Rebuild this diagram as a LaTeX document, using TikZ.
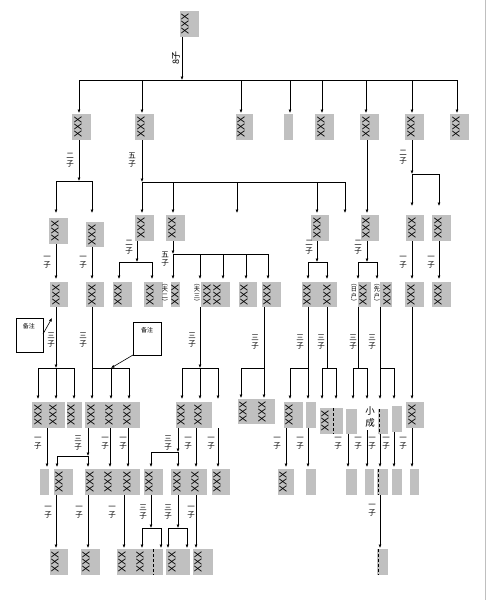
\documentclass[tikz,border=0pt]{standalone}
\usepackage{fontspec}
\setmainfont{Liberation Sans}
\newfontfamily\cjk{Noto Sans CJK SC}
\usetikzlibrary{arrows.meta,fit}
\definecolor{boxgray}{RGB}{192,192,192}
% gray box by its corners: name, x1, y1, x2, y2
\newcommand{\gb}[5]{\node[gbox,fit={(#2,#3) (#4,#5)}] (#1) {};}

\begin{document}
\begin{tikzpicture}[x=1pt,y=-1pt,
    conn/.style={line width=0.6pt},
    arr/.style={conn,-{Latex[length=3.5pt,width=3pt]}},
    gbox/.style={fill=boxgray,inner sep=0pt,outer sep=0pt},
    xxx/.style={rotate=90,inner sep=0pt,font=\fontsize{10.5}{11}\selectfont},
    kid/.style={inner sep=0pt,align=center,font=\cjk\fontsize{7.5}{8}\selectfont},
    tag/.style={inner sep=0pt,align=center,font=\cjk\fontsize{6.2}{6.4}\selectfont},
    note/.style={draw,line width=0.6pt,inner sep=0pt},
    sep/.style={densely dashed,line width=0.5pt}]
\useasboundingbox (0,0) rectangle (487,600);
\draw[gray!50,line width=1pt] (485,0) -- (485,600);

% ---- root ----
\gb{root}{180}{11}{199}{37}
\node[xxx] (rootx) at (185,24) {XXX};
\node[kid,rotate=90,font=\cjk\fontsize{9}{10}\selectfont] (rootk) at (176,58) {8子};
\draw[arr] (182,37) -- (182,80);
\draw[conn] (79,80) -- (457,80);
\foreach \x in {79,142,241,290,322,366,412,457} \draw[arr] (\x,80) -- (\x,113);

% ---- level 1 ----
\gb{b1}{72}{114}{91}{140}
\gb{b2}{135}{114}{154}{140}
\gb{b3}{236}{114}{253}{140}
\gb{b4}{284}{114}{293}{140}
\gb{b5}{315}{114}{334}{140}
\gb{b6}{360}{114}{379}{140}
\gb{b7}{405}{114}{424}{140}
\gb{b8}{450}{114}{469}{140}
\foreach \x [count=\i] in {78,141,241,321,366,411,456} \node[xxx] (bx\i) at (\x,127) {XXX};

\draw[arr] (79,140) -- (79,181);
\draw[conn] (56,181) -- (92,181);
\foreach \x in {56,92} \draw[arr] (\x,181) -- (\x,213);
\draw[arr] (142,140) -- (142,182);
\draw[conn] (142,182) -- (345,182);
\foreach \x in {142,173,237,317,345} \draw[arr] (\x,182) -- (\x,213);
\draw[arr] (367,140) -- (367,213);
\draw[arr] (412,140) -- (412,174);
\draw[conn] (412,174) -- (439,174);
\foreach \x in {412,439} \draw[arr] (\x,174) -- (\x,206);
\foreach \x/\y/\t [count=\i] in {70/160/二,132/160/五,403/157/二}
  \node[kid] (ka\i) at (\x,\y) {\t\\子};

% ---- level 2 ----
\gb{c1}{49}{218}{68}{244}
\gb{c2}{86}{222}{104}{247}
\gb{c3}{135}{215}{154}{241}
\gb{c4}{166}{215}{185}{241}
\gb{c5}{311}{215}{329}{241}
\gb{c6}{361}{215}{379}{241}
\gb{c7}{406}{215}{424}{241}
\gb{c8}{432}{215}{451}{241}
\node[xxx] (cx1) at (55,231) {XXX};
\node[xxx] (cx2) at (92,234.5) {XXX};
\foreach \x [count=\i] in {141,172,317,366,412,438} \node[xxx] (cy\i) at (\x,228) {XXX};

\draw[arr] (56,244) -- (56,279);
\draw[arr] (92,247) -- (92,279);
\draw[arr] (137,241) -- (137,262);
\draw[conn] (119,262) -- (152,262);
\foreach \x in {119,152} \draw[arr] (\x,262) -- (\x,279);
\draw[arr] (173,241) -- (173,254);
\draw[conn] (173,254) -- (268,254);
\foreach \x in {173,200,223,246,268} \draw[arr] (\x,254) -- (\x,279);
\draw[arr] (317,241) -- (317,262);
\draw[conn] (308,262) -- (327,262);
\foreach \x in {308,327} \draw[arr] (\x,262) -- (\x,279);
\draw[arr] (367,241) -- (367,262);
\draw[conn] (358,262) -- (377,262);
\foreach \x in {358,377} \draw[arr] (\x,262) -- (\x,279);
\draw[arr] (412,241) -- (412,279);
\draw[arr] (439,241) -- (439,279);
\foreach \x/\y/\t [count=\i] in {47/262/一,83/262/一,129/247/二,165/259/五,309/247/二,358/247/二,403/262/一,431/262/一}
  \node[kid] (kb\i) at (\x,\y) {\t\\子};

% ---- level 3 ----
\gb{d1}{50}{282}{68}{307}
\gb{d2}{86}{282}{104}{307}
\gb{d3}{113}{282}{132}{307}
\gb{d4}{144}{282}{163}{307}
\gb{d5}{171}{282}{180}{307}
\gb{d6}{201}{282}{230}{307}
\gb{d7}{239}{282}{257}{307}
\gb{d8}{262}{282}{281}{307}
\gb{d9}{302}{282}{337}{307}
\gb{d10}{358}{282}{371}{307}
\gb{d11}{380}{282}{392}{307}
\gb{d12}{405}{282}{424}{307}
\gb{d13}{432}{282}{451}{307}
\foreach \x [count=\i] in {56,92,118,150,175,207,217,244,267,307,327,363,387,411,438}
  \node[xxx] (dx\i) at (\x,294.5) {XXX};
\node[tag] (t1) at (165,294.5) {︵\\夫\\二\\︶};
\node[tag] (t2) at (197,294.5) {︵\\夫\\三\\︶};
\node[tag] (t3) at (354,294.5) {︵\\日\\户\\︶};
\node[tag] (t4) at (377,294.5) {︵\\先\\户\\︶};

\draw[arr] (56,307) -- (56,368);
\draw[conn] (38,368) -- (74,368);
\foreach \x in {38,56,74} \draw[arr] (\x,368) -- (\x,399);
\draw[arr] (92,307) -- (92,399);
\draw[conn] (92,368) -- (129,368);
\foreach \x in {111,129} \draw[arr] (\x,368) -- (\x,399);
\draw[arr] (200,307) -- (200,368);
\draw[conn] (182,368) -- (218,368);
\foreach \x in {182,200,218} \draw[arr] (\x,368) -- (\x,399);
\draw[arr] (264,307) -- (264,398);
\draw[conn] (241,368) -- (264,368);
\draw[arr] (241,368) -- (241,398);
\draw[arr] (308,307) -- (308,399);
\draw[conn] (290,368) -- (308,368);
\draw[arr] (290,368) -- (290,399);
\draw[conn] (327,307) -- (327,368);
\draw[conn] (322,368) -- (336,368);
\foreach \x in {322,336} \draw[arr] (\x,368) -- (\x,399);
\draw[conn] (358,307) -- (358,368);
\draw[conn] (353,368) -- (367,368);
\foreach \x in {353,367} \draw[arr] (\x,368) -- (\x,399);
\draw[arr] (380,307) -- (380,399);
\draw[conn] (380,368) -- (394,368);
\draw[arr] (394,368) -- (394,399);
\draw[arr] (412,307) -- (412,399);
\foreach \x/\y [count=\i] in {51/340,83/340,192/340,255/342,300/342,321/342,353/342,372/342}
  \node[kid] (kc\i) at (\x,\y) {三\\子};

% notes
\node[note,fit={(16,318) (43,352)}] (note1) {};
\node[kid,font=\cjk\fontsize{6}{7}\selectfont] (note1t) at (29,326) {备注};
\draw[arr] (43,334) -- (52,318);
\node[note,fit={(133,322) (161,355)}] (note2) {};
\node[kid,font=\cjk\fontsize{6}{7}\selectfont] (note2t) at (147,330) {备注};
\draw[arr] (133,355) -- (111,368);

% ---- level 4 ----
\gb{e1}{32}{402}{65}{428}
\gb{e2}{67}{402}{82}{428}
\gb{e3}{85}{402}{140}{428}
\gb{e4}{176}{402}{212}{428}
\gb{e5}{238}{399}{275}{424}
\gb{e6}{284}{402}{303}{428}
\gb{e7}{306}{402}{316}{428}
\gb{e8}{320}{408}{343}{434}
\gb{e9}{346}{409}{357}{434}
\gb{e10}{378}{409}{388}{434}
\gb{e11}{392}{406}{402}{432}
\gb{e12}{406}{402}{424}{428}
\foreach \x [count=\i] in {38,53,71,91,109,127,181,198,289,412}
  \node[xxx] (ex\i) at (\x,415) {XXX};
\foreach \x [count=\i] in {243,262} \node[xxx] (ey\i) at (\x,411.5) {XXX};
\node[xxx] (ez) at (325,421) {XXX};
\draw[sep] (333,408) -- (333,434);
\draw[sep] (379,409) -- (379,434);
\node[kid,font=\cjk\fontsize{9.5}{12}\selectfont] (small) at (370,417) {小\\成};

\draw[arr] (47,428) -- (47,467);
\draw[arr] (88,428) -- (88,456);
\draw[conn] (57,456) -- (88,456);
\foreach \x in {57,88} \draw[arr] (\x,456) -- (\x,467);
\draw[arr] (110,428) -- (110,467);
\draw[arr] (128,428) -- (128,467);
\draw[arr] (178,428) -- (178,452);
\draw[conn] (151,452) -- (178,452);
\foreach \x in {151,178} \draw[arr] (\x,452) -- (\x,467);
\draw[arr] (196,428) -- (196,467);
\draw[arr] (218,428) -- (218,467);
\draw[arr] (286,428) -- (286,467);
\draw[arr] (308,428) -- (308,467);
\draw[arr] (348,434) -- (348,467);
\draw[arr] (367,430) -- (367,467);
\draw[arr] (380,434) -- (380,467);
\draw[arr] (394,432) -- (394,467);
\draw[arr] (412,428) -- (412,467);
\foreach \x/\t [count=\i] in {38/一,78/三,105/一,123/一,168/三,188/一,211/一,277/一,300/一,338/一,358/一,372/一,386/一,403/一}
  \node[kid] (kd\i) at (\x,443) {\t\\子};

% ---- level 5 ----
\gb{f1}{40}{469}{49}{495}
\gb{f2}{54}{469}{73}{495}
\gb{f3}{85}{469}{140}{495}
\gb{f4}{144}{469}{163}{495}
\gb{f5}{171}{469}{207}{495}
\gb{f6}{212}{469}{230}{495}
\gb{f7}{278}{469}{294}{495}
\gb{f8}{306}{469}{316}{495}
\gb{f9}{346}{469}{357}{495}
\gb{f10}{365}{469}{374}{495}
\gb{f11}{377}{469}{388}{495}
\gb{f12}{392}{469}{402}{495}
\gb{f13}{410}{469}{419}{495}
\foreach \x [count=\i] in {59,90,108,127,149,177,195,217,283}
  \node[xxx] (fx\i) at (\x,482) {XXX};
\draw[sep] (378,469) -- (378,495);

\draw[arr] (56,495) -- (56,548);
\draw[arr] (88,495) -- (88,548);
\draw[arr] (124,495) -- (124,548);
\draw[arr] (151,495) -- (151,528);
\draw[conn] (142,528) -- (161,528);
\foreach \x in {142,161} \draw[arr] (\x,528) -- (\x,548);
\draw[arr] (178,495) -- (178,528);
\draw[conn] (168,528) -- (187,528);
\foreach \x in {168,187} \draw[arr] (\x,528) -- (\x,548);
\draw[arr] (196,495) -- (196,548);
\draw[arr] (380,495) -- (380,548);
\foreach \x/\y/\t [count=\i] in {48/512/一,79/512/一,112/512/一,143/512/三,168/512/三,191/512/一,372/510/一}
  \node[kid] (ke\i) at (\x,\y) {\t\\子};

% ---- level 6 ----
\gb{g1}{50}{549}{68}{575}
\gb{g2}{81}{549}{100}{575}
\gb{g3}{117}{549}{163}{575}
\gb{g4}{166}{549}{190}{575}
\gb{g5}{193}{549}{213}{575}
\gb{g6}{377}{549}{388}{575}
\foreach \x [count=\i] in {55,86,122,140,172,198}
  \node[xxx] (gx\i) at (\x,562) {XXX};
\draw[sep] (153,549) -- (153,575);
\draw[sep] (378,549) -- (378,575);
\end{tikzpicture}
\end{document}
